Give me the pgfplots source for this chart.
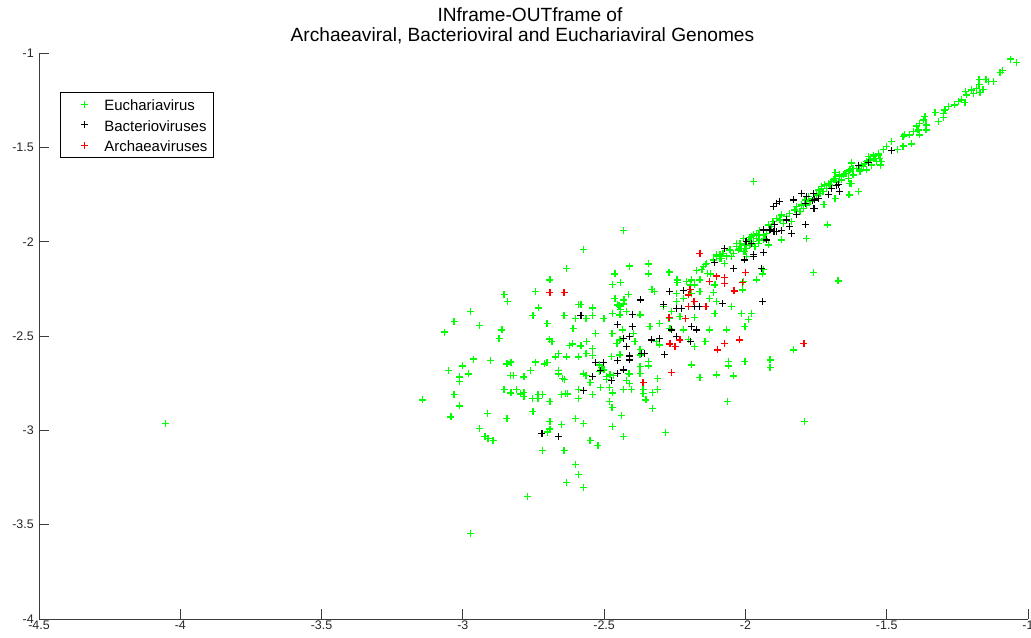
\documentclass[border=0pt]{standalone}
\usepackage{fontspec}
\setmainfont{Liberation Sans}
\usepackage{pgfplots}
\pgfplotsset{compat=1.18}
\definecolor{eugreen}{rgb}{0,1,0}
\definecolor{arred}{rgb}{1,0,0}
\definecolor{axisgray}{RGB}{60,60,60}

\begin{document}
\begin{tikzpicture}
\begin{axis}[
  at={(39bp,19bp)}, anchor=south west,
  scale only axis, width=989bp, height=566bp,
  xmin=-4.5, xmax=-1, ymin=-4, ymax=-1,
  axis x line*=bottom, axis y line*=left,
  axis line style={-, axisgray, line width=0.8bp},
  xtick={-4.5,-4,-3.5,-3,-2.5,-2,-1.5,-1},
  ytick={-4,-3.5,-3,-2.5,-2,-1.5,-1},
  tick align=inside, major tick length=10bp,
  tick style={axisgray, line width=0.8bp},
  /pgf/number format/assume math mode=true,
  tick label style={font=\fontsize{12.5}{14}\selectfont, text=black!85},
  xticklabel style={inner sep=1bp, yshift=-1bp},
  yticklabel style={inner sep=1bp, xshift=-4bp},
  title={\hspace*{15bp}INframe-OUTframe of\\Archaeaviral, Bacterioviral and Euchariaviral Genomes},
  title style={font=\fontsize{19.2}{20.5}\selectfont, align=center, inner sep=0pt,
    at={(0.5,1)}, anchor=south, yshift=2.5bp, xshift=-11bp},
  legend style={at={(0.0212,0.931)}, anchor=north west, draw=black, line width=0.8bp,
    font=\fontsize{15}{17}\selectfont, inner xsep=6bp, inner ysep=3.5bp,
    row sep=3.5bp, column sep=4bp,
    nodes={inner xsep=0bp, inner ysep=0bp, text height=15bp, text depth=2bp},
    legend cell align=left},
  legend image code/.code={%
    \path[draw=none, fill=none] (0bp,0bp) -- (34bp,0bp);
    \draw[#1, only marks] plot coordinates {(18bp,0bp)};},
  every axis plot/.append style={only marks, mark=+, mark size=3.5bp, line width=1.3bp},
]

% Euchariavirus
\addplot[eugreen] table {
x y
-4.052 -2.962
-3.142 -2.839
-2.973 -3.548
-2.771 -3.349
-2.573 -2.040
-2.633 -2.141
-2.692 -2.203
-2.742 -2.263
-2.854 -2.281
-2.843 -2.318
-2.972 -2.371
-3.031 -2.422
-2.941 -2.443
-3.064 -2.479
-2.862 -2.468
-2.872 -2.512
-2.733 -2.351
-2.752 -2.390
-2.702 -2.432
-2.642 -2.390
-2.590 -2.332
-2.582 -2.332
-2.542 -2.351
-2.601 -2.408
-2.564 -2.408
-2.541 -2.390
-2.501 -2.408
-2.462 -2.171
-2.471 -2.226
-2.462 -2.300
-2.452 -2.335
-2.471 -2.379
-2.610 -2.461
-2.693 -2.516
-2.685 -2.530
-2.531 -2.488
-2.562 -2.530
-2.611 -2.542
-2.623 -2.551
-2.582 -2.553
-2.542 -2.567
-2.542 -2.602
-2.564 -2.591
-2.472 -2.488
-2.455 -2.538
-2.592 -2.611
-2.632 -2.611
-2.673 -2.611
-2.661 -2.591
-2.742 -2.638
-2.711 -2.648
-2.702 -2.641
-2.830 -2.638
-2.844 -2.648
-2.903 -2.629
-2.962 -2.622
-3.001 -2.659
-3.050 -2.682
-2.981 -2.701
-3.013 -2.717
-2.831 -2.710
-2.822 -2.710
-2.784 -2.717
-2.761 -2.682
-2.661 -2.682
-2.661 -2.701
-2.648 -2.726
-2.573 -2.701
-2.564 -2.710
-2.517 -2.653
-2.508 -2.666
-2.501 -2.680
-2.517 -2.689
-2.468 -2.710
-3.013 -2.742
-2.641 -2.729
-2.550 -2.747
-2.514 -2.772
-2.482 -2.772
-3.031 -2.811
-3.013 -2.871
-3.042 -2.929
-2.912 -2.909
-2.854 -2.782
-2.811 -2.782
-2.830 -2.802
-2.795 -2.807
-2.784 -2.800
-2.784 -2.821
-2.753 -2.830
-2.734 -2.811
-2.734 -2.830
-2.719 -2.811
-2.692 -2.848
-2.752 -2.901
-2.844 -2.938
-2.941 -2.989
-2.922 -3.031
-2.911 -3.042
-2.893 -3.053
-2.652 -2.811
-2.636 -2.803
-2.629 -2.807
-2.592 -2.782
-2.592 -2.830
-2.542 -2.811
-2.482 -2.848
-2.472 -2.880
-2.471 -2.802
-2.692 -2.954
-2.692 -2.993
-2.700 -3.009
-2.650 -2.970
-2.601 -2.938
-2.573 -2.962
-2.471 -2.981
-2.550 -3.053
-2.522 -3.079
-2.719 -3.108
-2.642 -3.108
-2.601 -3.180
-2.590 -3.233
-2.632 -3.277
-2.573 -3.302
-2.432 -1.942
-2.411 -2.129
-2.343 -2.118
-2.343 -2.171
-2.441 -2.217
-2.270 -2.161
-2.242 -2.203
-2.242 -2.217
-2.209 -2.210
-2.192 -2.203
-2.194 -2.229
-2.331 -2.252
-2.323 -2.263
-2.413 -2.279
-2.430 -2.309
-2.432 -2.330
-2.447 -2.341
-2.441 -2.358
-2.444 -2.388
-2.420 -2.371
-2.373 -2.388
-2.243 -2.273
-2.243 -2.318
-2.220 -2.300
-2.190 -2.273
-2.161 -2.265
-2.181 -2.229
-2.161 -2.203
-2.173 -2.154
-2.154 -2.146
-2.142 -2.122
-2.135 -2.167
-2.123 -2.171
-2.102 -2.070
-2.090 -2.088
-2.073 -2.114
-2.055 -2.044
-2.031 -2.008
-2.019 -2.035
-2.002 -2.053
-1.996 -2.080
-2.008 -1.982
-1.984 -1.977
-1.972 -1.964
-1.960 -1.955
-1.949 -1.942
-1.955 -2.008
-1.937 -1.991
-1.919 -2.017
-1.872 -1.991
-1.783 -1.982
-1.760 -2.164
-1.939 -2.171
-1.937 -2.146
-1.960 -2.203
-2.008 -2.212
-2.011 -2.256
-2.108 -2.229
-2.114 -2.270
-2.102 -2.318
-2.126 -2.300
-2.049 -2.344
-2.108 -2.379
-2.013 -2.379
-1.978 -2.379
-1.990 -2.411
-2.002 -2.450
-2.232 -2.398
-2.181 -2.401
-2.261 -2.371
-2.291 -2.344
-2.270 -2.406
-2.303 -2.432
-2.338 -2.450
-2.397 -2.485
-2.435 -2.468
-2.444 -2.521
-2.391 -2.530
-2.267 -2.459
-2.220 -2.468
-2.202 -2.517
-2.126 -2.468
-2.067 -2.468
-2.143 -2.530
-2.314 -2.530
-2.303 -2.547
-2.373 -2.570
-2.373 -2.600
-2.344 -2.636
-2.344 -2.659
-2.373 -2.663
-2.373 -2.697
-2.444 -2.600
-2.473 -2.609
-2.415 -2.697
-2.312 -2.724
-2.190 -2.653
-2.181 -2.557
-2.061 -2.636
-2.061 -2.659
-2.002 -2.636
-1.913 -2.627
-1.913 -2.666
-1.831 -2.574
-2.161 -2.719
-2.102 -2.706
-2.043 -2.712
-2.479 -2.706
-2.491 -2.716
-2.362 -2.782
-2.362 -2.803
-2.330 -2.800
-2.311 -2.782
-2.063 -2.848
-1.792 -2.954
-2.282 -3.010
-2.330 -2.883
-2.352 -2.839
-2.439 -2.920
-2.432 -3.033
-2.432 -2.782
-2.403 -2.782
-2.411 -2.750
-2.420 -2.737
-2.491 -2.729
-2.411 -2.701
-1.709 -1.911
-1.672 -2.208
-1.601 -1.735
-1.633 -1.752
-1.683 -1.770
-1.722 -1.802
-1.624 -1.690
-1.972 -1.682
-1.683 -1.634
-1.624 -1.581
-2.149 -2.133
-2.137 -2.114
-2.114 -2.097
-2.102 -2.080
-2.090 -2.070
-2.084 -2.088
-2.079 -2.061
-2.067 -2.076
-2.055 -2.044
-2.049 -2.080
-2.043 -2.061
-2.031 -2.027
-2.025 -2.044
-2.019 -2.008
-2.013 -2.035
-2.008 -2.053
-2.002 -2.017
-1.996 -2.035
-1.990 -1.991
-1.984 -2.017
-1.978 -1.973
-1.972 -2.000
-1.966 -2.027
-1.960 -1.982
-1.955 -1.964
-1.949 -1.991
-1.937 -1.964
-1.931 -1.982
-1.925 -1.955
-1.919 -1.911
-1.907 -1.920
-1.902 -1.894
-1.890 -1.876
-1.878 -1.885
-1.872 -1.858
-1.866 -1.902
-1.854 -1.867
-1.843 -1.849
-1.837 -1.894
-1.825 -1.832
-1.819 -1.814
-1.807 -1.841
-1.801 -1.805
-1.795 -1.823
-1.789 -1.779
-1.783 -1.805
-1.778 -1.761
-1.772 -1.788
-1.760 -1.770
-1.748 -1.752
-1.742 -1.726
-1.736 -1.743
-1.730 -1.708
-1.725 -1.735
-1.713 -1.717
-1.707 -1.690
-1.701 -1.699
-1.689 -1.673
-1.683 -1.664
-1.677 -1.682
-1.666 -1.655
-1.654 -1.646
-1.642 -1.638
-1.636 -1.664
-1.630 -1.620
-1.619 -1.646
-1.607 -1.611
-1.595 -1.629
-1.583 -1.602
-1.577 -1.584
-1.571 -1.620
-1.559 -1.567
-1.553 -1.594
-1.548 -1.549
-1.536 -1.576
-1.530 -1.541
-1.524 -1.558
-1.062 -1.032
-1.040 -1.051
-1.099 -1.104
-1.090 -1.094
-1.173 -1.139
-1.149 -1.139
-1.141 -1.152
-1.123 -1.152
-1.173 -1.166
-1.159 -1.192
-1.182 -1.187
-1.170 -1.210
-1.194 -1.213
-1.200 -1.196
-1.220 -1.205
-1.217 -1.222
-1.235 -1.249
-1.223 -1.261
-1.247 -1.258
-1.259 -1.275
-1.282 -1.284
-1.294 -1.302
-1.300 -1.319
-1.300 -1.341
-1.318 -1.364
-1.329 -1.316
-1.365 -1.337
-1.371 -1.355
-1.361 -1.381
-1.361 -1.408
-1.383 -1.372
-1.394 -1.387
-1.389 -1.408
-1.385 -1.434
-1.406 -1.417
-1.420 -1.434
-1.436 -1.434
-1.442 -1.443
-1.412 -1.482
-1.442 -1.493
-1.463 -1.510
-1.483 -1.470
-1.500 -1.496
-1.512 -1.510
-1.530 -1.531
-1.548 -1.541
-1.565 -1.549
-1.542 -1.558
-1.518 -1.576
-1.522 -1.594
-1.571 -1.576
-1.589 -1.594
-1.597 -1.620
-1.619 -1.611
-1.624 -1.584
-1.636 -1.629
-1.648 -1.638
-1.666 -1.646
-1.660 -1.673
-1.630 -1.690
-1.677 -1.687
-1.695 -1.682
-1.719 -1.699
-1.730 -1.717
};
\addlegendentry{Euchariavirus}

% Bacterioviruses
\addplot[black, line width=1.1bp] table {
x y
-2.582 -2.390
-2.454 -2.441
-2.531 -2.641
-2.501 -2.639
-2.514 -2.684
-2.542 -2.717
-2.454 -2.631
-2.454 -2.701
-2.720 -3.015
-2.661 -3.033
-2.573 -2.791
-2.473 -2.738
-2.073 -2.035
-2.108 -2.111
-2.043 -2.141
-1.998 -2.000
-1.978 -2.012
-1.970 -2.070
-1.925 -1.991
-1.937 -2.058
-1.899 -1.947
-1.872 -1.942
-1.837 -1.955
-2.081 -2.330
-1.939 -2.318
-2.270 -2.265
-2.371 -2.309
-2.220 -2.261
-2.243 -2.353
-2.226 -2.353
-2.181 -2.344
-2.161 -2.344
-2.291 -2.335
-2.401 -2.388
-2.401 -2.450
-2.409 -2.503
-2.432 -2.512
-2.420 -2.557
-2.332 -2.521
-2.303 -2.512
-2.261 -2.468
-2.243 -2.503
-2.190 -2.450
-2.173 -2.468
-2.194 -2.530
-2.285 -2.600
-2.367 -2.591
-2.356 -2.591
-2.411 -2.606
-2.411 -2.627
-2.432 -2.680
-1.601 -1.594
-1.565 -1.581
-1.672 -1.696
-1.695 -1.717
-1.668 -1.735
-1.760 -1.743
-1.754 -1.779
-1.754 -1.823
-1.801 -1.743
-1.831 -1.779
-1.789 -1.796
-1.878 -1.788
-1.890 -1.796
-1.902 -1.814
-1.819 -1.858
-1.854 -1.885
-1.843 -1.920
-1.789 -1.911
-1.896 -1.911
-1.913 -1.938
-1.937 -1.938
-1.890 -1.947
-2.002 -2.097
-1.943 -2.141
-1.972 -2.080
-1.483 -1.518
-1.677 -1.703
-1.760 -1.823
-1.762 -1.783
-1.742 -1.770
-1.783 -1.761
-1.707 -1.752
};
\addlegendentry{Bacterioviruses}

% Archaeaviruses
\addplot[arred] table {
x y
-2.692 -2.270
-2.642 -2.270
-2.161 -2.061
-2.102 -2.182
-2.073 -2.189
-2.073 -2.220
-2.126 -2.212
-1.999 -2.162
-2.011 -2.217
-2.040 -2.261
-2.196 -2.252
-2.202 -2.282
-2.182 -2.318
-2.202 -2.344
-2.140 -2.344
-2.270 -2.401
-2.211 -2.408
-2.267 -2.542
-2.249 -2.557
-2.232 -2.521
-2.073 -2.538
-2.100 -2.574
-2.022 -2.521
-1.793 -2.538
-2.261 -2.694
-2.362 -2.747
};
\addlegendentry{Archaeaviruses}

\end{axis}
\pgfresetboundingbox
\useasboundingbox (0,0) rectangle (1031bp,638bp);
\end{tikzpicture}
\end{document}
